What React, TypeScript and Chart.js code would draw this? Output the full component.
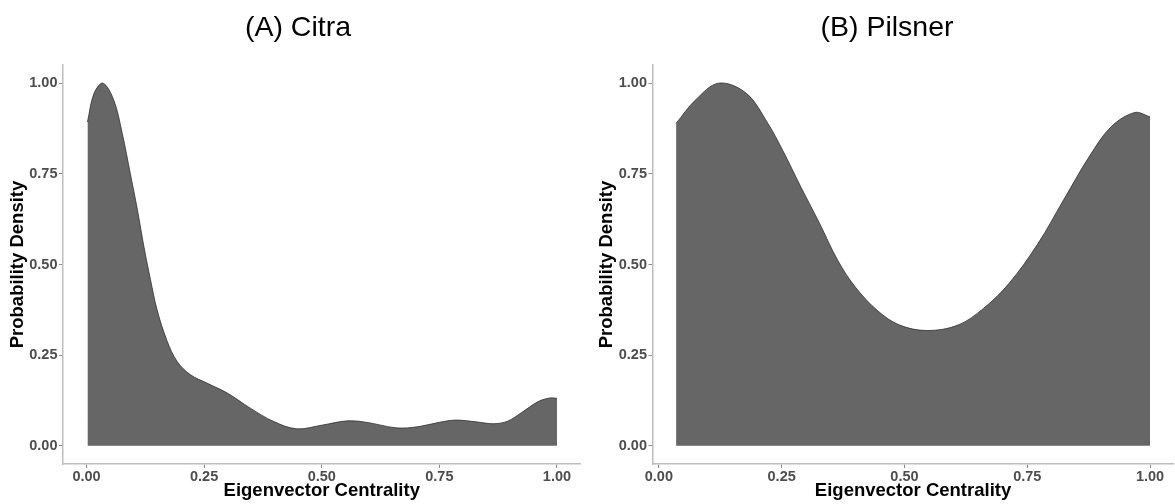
import React, { useEffect, useRef } from "react";
import { Chart, registerables } from "chart.js";

Chart.register(...registerables);

// ---- Data ----
const panelTitles = ["(A) Citra", "(B) Pilsner"];
const xAxisTitle = "Eigenvector Centrality";
const yAxisTitle = "Probability Density";

const xTickValues = [0, 0.25, 0.5, 0.75, 1.0];
const yTickValues = [0, 0.25, 0.5, 0.75, 1.0];

const citraX = [
  0.002, 0.016, 0.035, 0.058, 0.076, 0.093, 0.108, 0.122, 0.136, 0.15,
  0.171, 0.193, 0.221, 0.256, 0.3, 0.348, 0.398, 0.447, 0.5, 0.555,
  0.6, 0.64, 0.672, 0.71, 0.75, 0.785, 0.83, 0.865, 0.895, 0.925,
  0.96, 0.985, 1.0,
];
const citraDensity = [
  0.893, 0.972, 1.0, 0.953, 0.861, 0.751, 0.652, 0.549, 0.458, 0.375,
  0.29, 0.232, 0.196, 0.173, 0.145, 0.104, 0.067, 0.047, 0.057, 0.069,
  0.064, 0.053, 0.049, 0.054, 0.065, 0.071, 0.066, 0.061, 0.068, 0.092,
  0.122, 0.132, 0.131,
];

const pilsnerX = [
  0.035, 0.074, 0.122, 0.178, 0.222, 0.252, 0.289, 0.327, 0.364, 0.401,
  0.446, 0.49, 0.546, 0.609, 0.661, 0.713, 0.772, 0.824, 0.876, 0.921,
  0.969, 1.0,
];
const pilsnerDensity = [
  0.889, 0.953, 1.0, 0.972, 0.889, 0.815, 0.714, 0.614, 0.512, 0.436,
  0.372, 0.333, 0.318, 0.333, 0.379, 0.448, 0.558, 0.678, 0.797, 0.88,
  0.919, 0.907,
];

const FONT = '"Liberation Sans", Arial, Helvetica, sans-serif';
const TICK_COLOR = "#4d4d4d";
const AXIS_COLOR = "#bdbdbd";
const TICKMARK_COLOR = "#8c8c8c";

type PanelProps = {
  title: string;
  xs: number[];
  ys: number[];
  xMin: number;
  xMax: number;
  left: number;
  width: number;
  yAxisWidth: number;
  padRight: number;
};

function Panel({ title, xs, ys, xMin, xMax, left, width, yAxisWidth, padRight }: PanelProps) {
  const ref = useRef<HTMLCanvasElement | null>(null);

  useEffect(() => {
    if (!ref.current) return;
    const titlePlugin = {
      id: "panelTitle",
      afterDraw(chart: any) {
        const ctx = chart.ctx;
        ctx.save();
        ctx.font = `28.5px ${FONT}`;
        ctx.fillStyle = "#000000";
        ctx.textAlign = "center";
        ctx.textBaseline = "alphabetic";
        ctx.fillText(title, 298, 36);
        ctx.restore();
      },
    };

    const tickFont = { family: FONT, size: 14.5, weight: "bold" as const };
    const titleFont = { family: FONT, size: 18.5, weight: "bold" as const };

    const chart = new Chart(ref.current, {
      type: "line",
      data: {
        datasets: [
          {
            data: xs.map((x, i) => ({ x, y: ys[i] })),
            fill: "origin",
            backgroundColor: "#666666",
            borderColor: "#2e2e2e",
            borderWidth: 0.8,
            pointRadius: 0,
            tension: 0.35,
          },
        ],
      },
      options: {
        responsive: false,
        animation: false,
        layout: { padding: { top: 65, left: 0, right: padRight, bottom: 0 } },
        plugins: {
          legend: { display: false },
          tooltip: { enabled: false },
          title: { display: false },
        },
        scales: {
          x: {
            type: "linear",
            min: xMin,
            max: xMax,
            afterFit: (s: any) => {
              s.height = 40;
            },
            afterBuildTicks: (s: any) => {
              s.ticks = xTickValues.map((v) => ({ value: v }));
            },
            ticks: {
              callback: (v: any) => Number(v).toFixed(2),
              font: tickFont,
              color: TICK_COLOR,
              padding: 0,
              maxRotation: 0,
              autoSkip: false,
            },
            grid: {
              drawOnChartArea: false,
              drawTicks: true,
              tickLength: 4,
              color: TICKMARK_COLOR,
              lineWidth: 1,
            },
            border: { display: true, color: AXIS_COLOR, width: 1.5 },
            title: {
              display: true,
              text: xAxisTitle,
              color: "#000000",
              font: titleFont,
              padding: { top: 0, bottom: 1.5 },
            },
          },
          y: {
            type: "linear",
            min: -0.05,
            max: 1.05,
            afterFit: (s: any) => {
              s.width = yAxisWidth;
            },
            afterBuildTicks: (s: any) => {
              s.ticks = yTickValues.map((v) => ({ value: v }));
            },
            ticks: {
              callback: (v: any) => Number(v).toFixed(2),
              font: tickFont,
              color: TICK_COLOR,
              padding: 1.5,
              autoSkip: false,
            },
            grid: {
              drawOnChartArea: false,
              drawTicks: true,
              tickLength: 4,
              color: TICKMARK_COLOR,
              lineWidth: 1,
            },
            border: { display: true, color: AXIS_COLOR, width: 1.5 },
            title: {
              display: true,
              text: yAxisTitle,
              color: "#000000",
              font: titleFont,
              padding: { top: 6.4, bottom: 0 },
            },
          },
        },
      } as any,
      plugins: [titlePlugin],
    });
    return () => chart.destroy();
  }, [title, xs, ys, xMin, xMax, yAxisWidth, padRight]);

  return (
    <canvas
      ref={ref}
      width={width}
      height={504}
      style={{ position: "absolute", left, top: 0, width, height: 504 }}
    />
  );
}

export default function App() {
  return (
    <div
      style={{
        position: "fixed",
        left: 0,
        top: 0,
        width: 1175,
        height: 504,
        background: "#ffffff",
        overflow: "hidden",
      }}
    >
      <Panel
        title={panelTitles[0]}
        xs={citraX}
        ys={citraDensity}
        xMin={-0.05}
        xMax={1.05}
        left={0}
        width={587}
        yAxisWidth={63}
        padRight={6.5}
      />
      <Panel
        title={panelTitles[1]}
        xs={pilsnerX}
        ys={pilsnerDensity}
        xMin={-0.013}
        xMax={1.048}
        left={589}
        width={586}
        yAxisWidth={63.5}
        padRight={1.4}
      />
    </div>
  );
}
